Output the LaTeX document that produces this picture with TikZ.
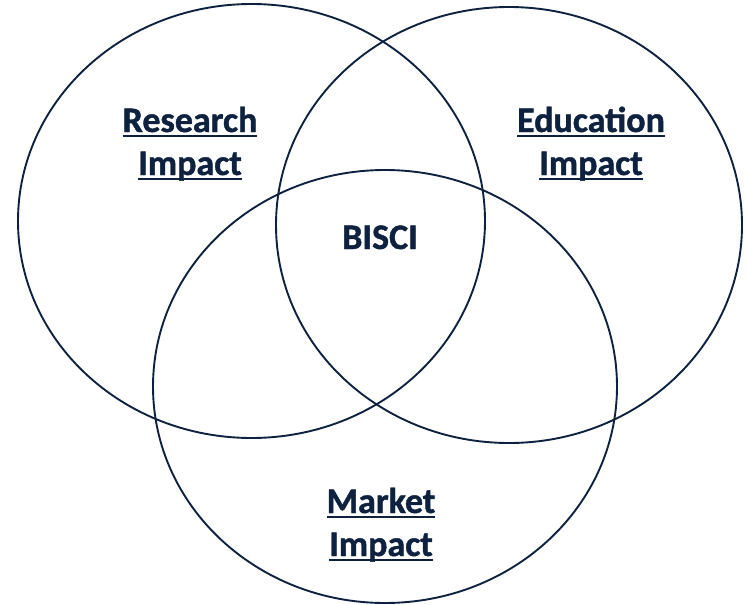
\documentclass[tikz,border=0pt]{standalone}
\usepackage{fontspec}
\setmainfont{Carlito}[BoldFont={Carlito Bold}, BoldFeatures={FakeBold=1.2}]
\usetikzlibrary{shapes.geometric}
\definecolor{navy}{RGB}{14,34,64}
\newcommand{\myul}[1]{\setbox0\hbox{#1}\rlap{\rule[-0.15em]{\wd0}{0.06em}}\box0}
\tikzset{
  circ/.style={draw=navy, line width=1.9pt, ellipse, inner sep=0pt},
  lbl/.style={text=navy, font=\bfseries\fontsize{36}{42}\selectfont, anchor=base, inner sep=0pt}
}
\begin{document}
\begin{tikzpicture}[x=1pt,y=-1pt]
\useasboundingbox (0,0) rectangle (747,605);
\node[circ, minimum width=467pt, minimum height=434pt] (research) at (251.5,221) {};
\node[circ, minimum width=466pt, minimum height=436pt] (education) at (509,225) {};
\node[circ, minimum width=464pt, minimum height=433pt] (market) at (385,386.5) {};
\node[lbl] (r1) at (190,132) {\myul{Research}};
\node[lbl] (r2) at (190,175) {\myul{Impact}};
\node[lbl] (e1) at (591,132) {\myul{Education}};
\node[lbl] (e2) at (591,175) {\myul{Impact}};
\node[lbl] (b) at (380,249) {BISCI};
\node[lbl] (m1) at (381,513) {\myul{Market}};
\node[lbl] (m2) at (381,556) {\myul{Impact}};
\end{tikzpicture}
\end{document}
